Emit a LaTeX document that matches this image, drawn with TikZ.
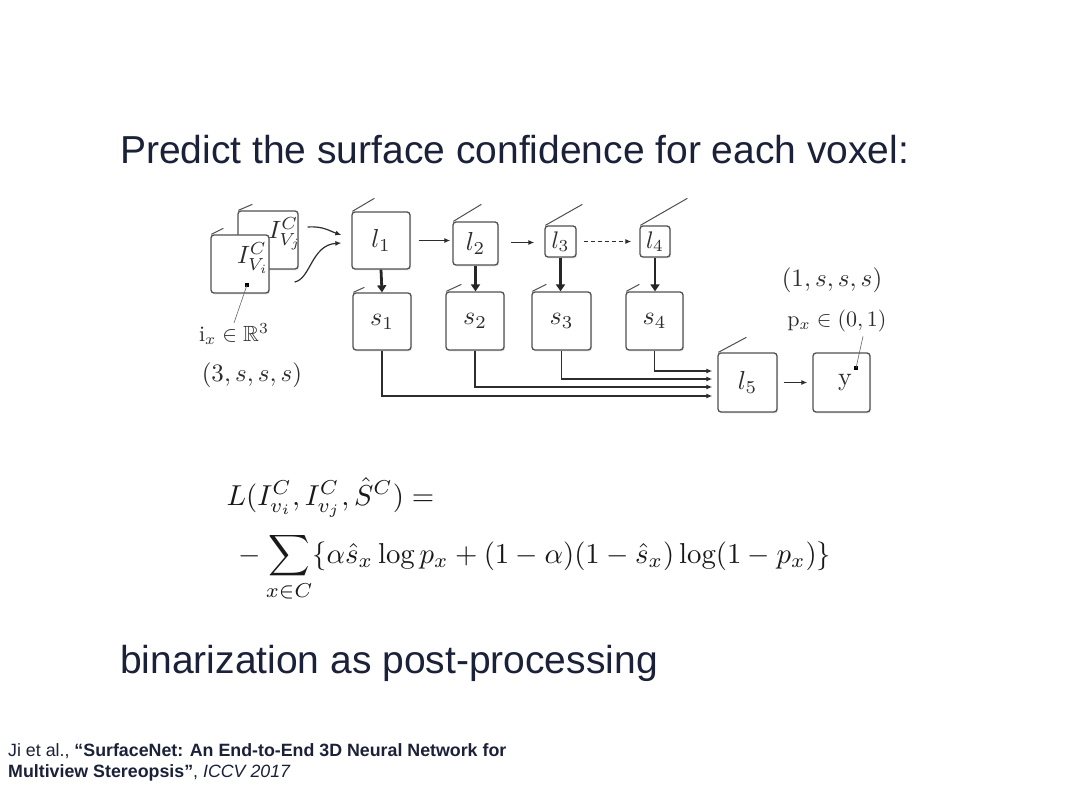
\documentclass[tikz,border=0pt]{standalone}
\usepackage{amssymb}
\usepackage{fontspec}
\newfontfamily\helv{Liberation Sans}
\usetikzlibrary{arrows.meta,calc,shadows}
\definecolor{navy}{RGB}{27,33,56}
\definecolor{boxgray}{RGB}{80,80,80}
\definecolor{diagtext}{RGB}{45,45,45}
\begin{document}
\begin{tikzpicture}[x=1pt,y=-1pt,
  box/.style={draw=boxgray, line width=1.3pt, rounded corners=3pt, fill=white, inner sep=0pt,
    drop shadow={opacity=0.2, shadow xshift=1pt, shadow yshift=-1.5pt}},
  tick/.style={draw=boxgray, line width=1pt},
  lbl/.style={text=diagtext, inner sep=0pt, scale=2.2},
  boxlbl/.style={text=diagtext, inner sep=0pt, scale=2.6},
  smlbl/.style={text=diagtext, inner sep=0pt, scale=2.4},
  big/.style={text=diagtext, inner sep=0pt, scale=2.5},
  arr/.style={draw=diagtext, line width=1.2pt, -{Latex[length=6pt,width=5pt]}},
  fatarr/.style={draw=black!85, line width=2.8pt, -{Triangle[length=7pt,width=9pt]}},
  pin/.style={draw=black!60, line width=0.6pt},
  dot/.style={fill=black, inner sep=0pt, minimum size=4.5pt},
  slide/.style={inner sep=0pt, anchor=base west, text=navy, font=\helv\fontsize{39}{47}\selectfont},
  cite/.style={inner sep=0pt, anchor=base west, text=navy, font=\helv\fontsize{17.8}{21}\selectfont},
  eq/.style={inner sep=0pt, anchor=base west, text=black!90, scale=2.88}
]
\fill[white] (0,0) rectangle (1080,810);
\useasboundingbox (0,0) rectangle (1080,810);

% title and bottom text
\node[slide] (title) at (120,164) {Predict the surface confidence for each voxel:};
\node[slide] (bin) at (120,673) {binarization as post-processing};
\node[cite] (cite1) at (8,756) {Ji et al., \textbf{“SurfaceNet: An End-to-End 3D Neural Network for}};
\node[cite] (cite2) at (8,777) {\textbf{Multiview Stereopsis”}, \textit{ICCV 2017}};

% input cubes
\node[box, minimum width=60pt, minimum height=58pt] (IVj) at (268,240) {};
\draw[tick] ($(IVj.north west)+(1,0)$) -- ++(14,-6);
\node[big] (IVjl) at (285,234) {$I^C_{V_j}$};
\node[box, minimum width=58pt, minimum height=58pt] (IVi) at (240,264) {};
\draw[tick] ($(IVi.north west)+(1,0)$) -- ++(12,-6);
\node[big] (IVil) at (253,258) {$I^C_{V_i}$};
\node[dot] (ixdot) at (247,285) {};
\node[lbl] (ixl) at (234,334) {$\mathrm{i}_x\in\mathbb{R}^3$};
\draw[pin] (ixdot.center) -- (ixl.north);
\node[big] (shape3) at (252,375) {$(3,s,s,s)$};

% l boxes
\node[box, minimum width=58pt, minimum height=57pt] (l1) at (381,240.5) {};
\draw[tick] ($(l1.north west)+(1,0)$) -- ++(22,-13);
\node[boxlbl] at (l1) {$l_1$};
\node[box, minimum width=45pt, minimum height=43pt] (l2) at (475.5,243.5) {};
\draw[tick] ($(l2.north west)+(1,0)$) -- ++(28,-17);
\node[boxlbl] at (l2) {$l_2$};
\node[box, minimum width=31pt, minimum height=31pt] (l3) at (560.5,241.5) {};
\draw[tick] ($(l3.north west)+(1,0)$) -- ++(37,-21);
\node[smlbl] at (l3) {$l_3$};
\node[box, minimum width=30pt, minimum height=31pt] (l4) at (655,241.5) {};
\draw[tick] ($(l4.north west)+(1,0)$) -- ++(47,-27);
\node[smlbl] at (l4) {$l_4$};

% s boxes
\node[box, minimum width=58pt, minimum height=57pt] (s1) at (382,321.5) {};
\draw[tick] ($(s1.north west)+(1,0)$) -- ++(11,-5);
\node[boxlbl] at (s1) {$s_1$};
\node[box, minimum width=58pt, minimum height=58pt] (s2) at (475,321) {};
\draw[tick] ($(s2.north west)+(1,0)$) -- ++(15,-7);
\node[boxlbl] at (s2) {$s_2$};
\node[box, minimum width=59pt, minimum height=58pt] (s3) at (561.5,321) {};
\draw[tick] ($(s3.north west)+(1,0)$) -- ++(14,-7);
\node[boxlbl] at (s3) {$s_3$};
\node[box, minimum width=57pt, minimum height=58pt] (s4) at (654.5,321) {};
\draw[tick] ($(s4.north west)+(1,0)$) -- ++(13,-7);
\node[boxlbl] at (s4) {$s_4$};

% l5 and output
\node[box, minimum width=59pt, minimum height=59pt] (l5) at (747.5,382.5) {};
\draw[tick] ($(l5.north west)+(1,0)$) -- ++(28,-15);
\node[boxlbl] at (l5) {$l_5$};
\node[box, minimum width=57pt, minimum height=59pt] (yb) at (841.5,382.5) {};
\node[boxlbl] (ylab) at (845,383) {$\mathrm{y}$};
\node[dot] (ydot) at (856,368) {};
\node[big] (shape1) at (832,280) {$(1,s,s,s)$};
\node[lbl] (pxl) at (837,321) {$\mathrm{p}_x\in(0,1)$};
\coordinate (pxpt) at ($(pxl.south)+(26,4)$);
\draw[pin] (ydot.center) -- (pxpt);

% input curves
\draw[arr] ($(IVj.east)+(9,-13)$) .. controls +(16,-1) and +(-12,-4) .. ($(l1.west)+(-10,-5.5)$);
\draw[arr] ($(IVi.east)+(25,18)$) .. controls +(16,-3) and +(-30,2) .. ($(l1.west)+(-10,2.5)$);

% chain arrows
\draw[arr, shorten <=8pt, shorten >=2pt] (l1.east) -- (l1.east -| l2.west);
\draw[arr, shorten <=12pt, shorten >=10pt] ($(l2.east)+(0,-1)$) -- ($(l2.east -| l3.west)+(0,-1)$);
\draw[arr, dash pattern=on 4pt off 3pt, shorten <=7pt, shorten >=8pt] (l3.east) -- (l3.east -| l4.west);

% l -> s
\draw[fatarr] (l1.south) -- (s1.north);
\draw[fatarr] (l2.south) -- (s2.north -| l2.south);
\draw[fatarr] (l3.south) -- (s3.north -| l3.south);
\draw[fatarr] (l4.south) -- (s4.north -| l4.south);

% s -> l5
\draw[arr] (s1.south) |- ($(l5.west)+(-5,13.5)$);
\draw[arr] (s2.south) |- ($(l5.west)+(-5,4.5)$);
\draw[arr] (s3.south) |- ($(l5.west)+(-5,-3.5)$);
\draw[arr] (s4.south) |- ($(l5.west)+(-5,-11.5)$);
\draw[arr, shorten <=6pt, shorten >=5pt] (l5.east) -- (yb.west);

% loss
\node[eq] (loss1) at (226,505) {$L(I^C_{v_i},I^C_{v_j},\hat S^C) =$};
\node[eq] (loss2) at (238,563) {$\displaystyle -\sum_{x\in C}\{\alpha\hat s_x\log p_x+(1-\alpha)(1-\hat s_x)\log(1-p_x)\}$};
\end{tikzpicture}
\end{document}
